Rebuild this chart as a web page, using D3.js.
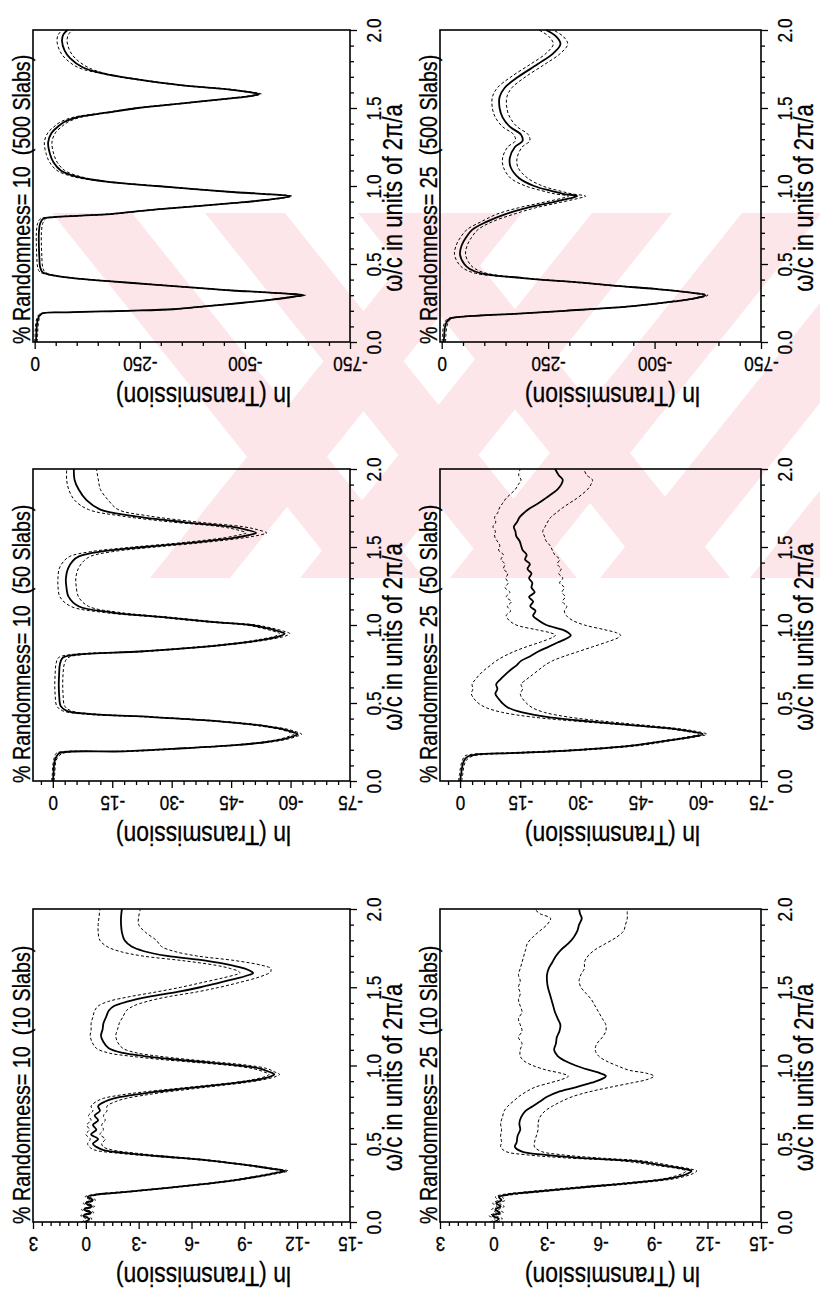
<!DOCTYPE html>
<html><head><meta charset="utf-8">
<script src="https://cdn.jsdelivr.net/npm/d3@7"></script>
<style>body{margin:0;background:#fff}svg{display:block}</style>
</head><body>
<svg id="chart" width="820" height="1296"></svg>
<script>
// ---------- tick values ----------
const omegaTicks = [0, 0.5, 1.0, 1.5, 2.0];
const lnTicks500 = [0, -250, -500, -750];
const lnTicks50 = [0, -15, -30, -45, -60, -75];
const lnTicks10 = [3, 0, -3, -6, -9, -12, -15];

// ---------- 10 % randomness, 500 slabs ----------
const omegaA = [0,0.05,0.10,0.15,0.18,0.19,0.20,0.21,0.23,0.25,0.27,0.29,0.30,0.31,0.32,0.33,0.35,0.37,0.39,0.41,0.43,0.45,0.48,0.55,0.62,0.70,0.76,0.79,0.80,0.81,0.82,0.85,0.89,0.92,0.935,0.95,0.96,0.98,1.00,1.03,1.06,1.10,1.15,1.20,1.28,1.34,1.38,1.41,1.44,1.47,1.50,1.53,1.56,1.58,1.59,1.60,1.62,1.645,1.69,1.72,1.76,1.82,1.87,1.93,1.97,2.00];
const meanA = [-3,-4,-5,-8,-15,-80,-220,-330,-410,-490,-560,-615,-640,-600,-540,-470,-370,-275,-175,-90,-38,-18,-13,-11,-10,-10,-13,-20,-45,-110,-180,-290,-470,-580,-608,-540,-477,-380,-290,-165,-100,-62,-45,-37,-32,-40,-55,-70,-100,-170,-245,-352,-460,-520,-534,-515,-460,-352,-228,-165,-115,-84,-71,-65,-68,-78];
const upperA = [0,-1,-2,-5,-12,-76,-216,-326,-406,-486,-556,-611,-636,-596,-536,-466,-366,-271,-171,-86,-34,-12,-7,-5,-4,-4,-7,-14,-41,-106,-176,-286,-466,-576,-604,-536,-473,-376,-286,-161,-91,-53,-36,-28,-23,-31,-46,-61,-91,-165,-240,-347,-455,-515,-529,-510,-455,-347,-223,-160,-103,-72,-59,-53,-56,-66];
const lowerA = [-6,-7,-8,-11,-18,-84,-224,-334,-414,-494,-564,-619,-644,-604,-544,-474,-374,-279,-179,-94,-42,-24,-19,-17,-16,-16,-19,-26,-49,-114,-184,-294,-474,-584,-612,-544,-481,-384,-294,-169,-109,-71,-54,-46,-41,-49,-64,-79,-109,-175,-250,-357,-465,-525,-539,-520,-465,-357,-233,-170,-127,-96,-83,-77,-80,-90];

// ---------- 25 % randomness, 500 slabs ----------
const omegaB = [0,0.05,0.10,0.13,0.15,0.16,0.17,0.18,0.20,0.23,0.26,0.28,0.30,0.32,0.34,0.36,0.38,0.41,0.44,0.47,0.50,0.56,0.62,0.67,0.72,0.77,0.82,0.86,0.89,0.92,0.935,0.95,0.97,1.00,1.05,1.12,1.18,1.25,1.29,1.33,1.38,1.44,1.50,1.57,1.63,1.70,1.78,1.85,1.91,1.96,2.00];
const meanB = [-5,-6,-8,-12,-19,-37,-90,-170,-290,-450,-545,-595,-620,-575,-502,-410,-330,-190,-93,-65,-53,-43,-47,-57,-72,-105,-150,-200,-250,-300,-318,-285,-255,-217,-182,-162,-160,-172,-190,-186,-160,-143,-136,-136,-148,-180,-225,-262,-279,-268,-245];
const upperB = [-1,-2,-4,-8,-15,-32,-85,-165,-285,-445,-540,-590,-615,-570,-497,-405,-325,-185,-80,-52,-40,-30,-34,-44,-59,-92,-130,-180,-230,-280,-298,-265,-235,-197,-162,-145,-143,-155,-173,-169,-143,-126,-119,-119,-131,-163,-208,-245,-262,-251,-228];
const lowerB = [-9,-10,-12,-16,-23,-42,-95,-175,-295,-455,-550,-600,-625,-580,-507,-415,-335,-195,-106,-78,-66,-56,-60,-70,-85,-118,-170,-220,-270,-320,-338,-305,-275,-237,-202,-179,-177,-189,-207,-203,-177,-160,-153,-153,-165,-197,-242,-279,-296,-285,-262];

// ---------- 10 % randomness, 50 slabs ----------
const omegaC = [0,0.05,0.10,0.13,0.16,0.18,0.19,0.21,0.23,0.25,0.27,0.29,0.30,0.31,0.33,0.35,0.37,0.39,0.41,0.43,0.45,0.48,0.55,0.62,0.69,0.75,0.79,0.81,0.83,0.85,0.87,0.89,0.91,0.93,0.945,0.96,0.98,1.00,1.02,1.05,1.08,1.12,1.18,1.25,1.30,1.36,1.41,1.44,1.47,1.50,1.53,1.56,1.58,1.59,1.61,1.63,1.66,1.70,1.74,1.80,1.87,1.93,2.00];
const meanC = [0,-0.2,-0.3,-0.5,-1.0,-1.8,-18,-33,-46,-54,-58.5,-61,-61.8,-61,-58.5,-54,-47.5,-38,-25,-9,-3.5,-2,-1.6,-1.5,-1.6,-1.8,-2.5,-6,-22,-33,-42,-49,-54,-57.5,-58.5,-57,-54,-50,-40,-28,-15,-6.5,-4,-3.4,-3.3,-3.8,-5,-6.6,-12,-23,-36,-46,-50,-51.3,-49,-45,-33,-20,-12,-8.5,-6.5,-5.5,-5.3];
const upperC = [0.3,0.1,0,-0.2,-0.5,-1.0,-16,-32,-45,-53,-57.5,-60,-60.8,-60,-57.5,-53,-46.5,-37,-24,-7.5,-2.5,-1,-0.6,-0.5,-0.6,-0.8,-1.4,-4.5,-20.5,-31.8,-40.8,-47.8,-52.8,-56.3,-57.2,-55.7,-52.7,-48.7,-38.5,-26.5,-13,-4.5,-1.8,-1.3,-1.3,-1.6,-2.8,-4.3,-9.5,-20.5,-33.5,-43.5,-47.5,-48.8,-46.5,-42.5,-30,-17,-9,-5.5,-4,-3.5,-3.5];
const lowerC = [-0.3,-0.5,-0.6,-0.8,-1.5,-2.8,-20,-34,-47,-55,-59.5,-62,-62.8,-62,-59.5,-55,-48.5,-39,-26,-10.5,-4.6,-3,-2.6,-2.5,-2.6,-2.9,-3.8,-7.5,-23.5,-34.2,-43.2,-50.2,-55.2,-58.8,-59.8,-58.3,-55.3,-51.3,-41.5,-29.5,-17,-9,-6.5,-5.9,-5.8,-6.4,-7.8,-9.5,-15,-26,-38.5,-48.5,-52.8,-54,-51.8,-48,-36.5,-24,-16.5,-14,-12,-11.5,-11];

// ---------- 25 % randomness, 50 slabs ----------
const omegaD = [0,0.05,0.10,0.14,0.16,0.17,0.18,0.20,0.23,0.26,0.28,0.30,0.32,0.34,0.36,0.38,0.41,0.44,0.47,0.50,0.53,0.56,0.59,0.62,0.65,0.68,0.71,0.74,0.77,0.80,0.83,0.86,0.89,0.92,0.935,0.95,0.97,1.00,1.03,1.06,1.09,1.12,1.15,1.18,1.21,1.24,1.27,1.30,1.33,1.36,1.39,1.42,1.45,1.48,1.51,1.54,1.57,1.60,1.63,1.66,1.69,1.72,1.75,1.78,1.81,1.84,1.87,1.90,1.93,1.96,2.00];
const meanD = [0,-0.3,-0.6,-1.2,-2.2,-4,-14,-30,-44,-52,-57,-60.5,-57,-51,-42,-33,-22,-15.5,-12,-10.5,-9.5,-8.8,-9.3,-9.0,-10,-11.2,-12.5,-14,-15.2,-17.5,-19.5,-22,-24.5,-27,-27.6,-27,-25.5,-21.5,-19.5,-18.2,-18.8,-17.5,-18.2,-17.2,-18.6,-17.8,-18.0,-17.2,-17.8,-16.8,-17.4,-16.2,-16.6,-15.6,-15.2,-14.8,-14.0,-13.8,-13.4,-14.2,-14.8,-16.0,-17.5,-19.5,-21.2,-22.8,-24.3,-25.2,-25.6,-24.6,-23.7];
const upperD = [0.4,0.1,-0.2,-0.7,-1.2,-2.5,-11,-28,-43,-51,-56,-59.5,-56,-50,-40.5,-30.5,-18,-10.5,-6.5,-4.5,-3.4,-2.8,-3.2,-3.0,-3.8,-4.8,-6,-7.5,-9,-11,-13.5,-16.5,-20,-23,-23.8,-22.5,-19,-14,-12.2,-11.5,-12.6,-11.8,-12.8,-11.5,-12.4,-11.2,-12.0,-11.4,-11.9,-10.8,-11.2,-10.2,-10.8,-9.6,-9.9,-9.2,-8.6,-8.8,-8.2,-8.9,-8.6,-9.4,-9.8,-10.6,-11.4,-12.6,-13.8,-14.5,-15.2,-14.6,-15.0];
const lowerD = [-0.4,-0.7,-1.0,-1.8,-3.2,-6,-17,-32,-45.5,-53,-58,-61.5,-58.5,-53,-45,-37,-27,-21,-18,-16.5,-15.5,-15,-15.6,-15.2,-16.5,-18,-19.5,-21,-23,-26,-29.5,-33,-36.5,-39.5,-40,-39,-36,-31,-28,-26.5,-26,-26.6,-25.5,-26.2,-25.4,-26,-24.8,-25.6,-24.6,-25.2,-24.2,-24.8,-23.6,-23.0,-22.4,-21.4,-21.0,-20.6,-21.2,-21.8,-22.6,-24.0,-25.5,-27.2,-29.0,-30.5,-31.8,-32.6,-33.0,-31.6,-30.8];

// ---------- 10 % randomness, 10 slabs ----------
const omegaE = [0,0.02,0.04,0.06,0.08,0.10,0.12,0.14,0.16,0.175,0.185,0.20,0.22,0.24,0.26,0.28,0.30,0.315,0.326,0.34,0.36,0.38,0.40,0.42,0.44,0.46,0.48,0.50,0.53,0.56,0.59,0.62,0.65,0.68,0.71,0.74,0.77,0.79,0.81,0.83,0.85,0.87,0.89,0.91,0.93,0.943,0.96,0.98,1.00,1.02,1.04,1.06,1.08,1.11,1.15,1.19,1.23,1.27,1.31,1.35,1.38,1.41,1.44,1.47,1.50,1.53,1.56,1.58,1.59,1.60,1.62,1.64,1.67,1.70,1.73,1.76,1.80,1.85,1.90,1.95,2.00];
const meanE = [0.1,-0.2,0.15,-0.3,0.1,-0.35,0,-0.4,-0.1,-0.6,-1.5,-3.0,-4.8,-6.5,-8.0,-9.2,-10.2,-10.9,-11.3,-10.6,-9.4,-8.0,-6.4,-4.2,-2.3,-1.0,-0.6,-0.4,-0.7,-0.3,-0.6,-0.4,-0.7,-0.5,-0.8,-0.7,-1.1,-1.6,-2.6,-3.8,-5.4,-7.0,-8.6,-9.8,-10.5,-10.7,-10.4,-9.9,-8.7,-6.9,-4.9,-3.3,-2.1,-1.3,-1.0,-0.86,-0.95,-1.0,-1.15,-1.3,-1.6,-2.4,-3.6,-5.2,-6.5,-7.6,-8.7,-9.3,-9.5,-9.4,-9.0,-8.3,-6.8,-4.6,-3.3,-2.6,-2.2,-2.05,-2.0,-2.0,-2.05];
const upperE = [0.25,0,0.3,-0.15,0.25,-0.2,0.15,-0.25,0.05,-0.4,-1.2,-2.8,-4.6,-6.3,-7.8,-9.0,-10.0,-10.7,-11.1,-10.4,-9.2,-7.8,-6.1,-3.8,-1.8,-0.5,-0.2,-0.1,-0.25,0,-0.2,-0.05,-0.3,-0.15,-0.4,-0.3,-0.6,-1.0,-1.9,-3.2,-4.9,-6.6,-8.3,-9.5,-10.2,-10.4,-10.1,-9.5,-8.2,-6.2,-4.1,-2.5,-1.3,-0.6,-0.35,-0.25,-0.3,-0.3,-0.4,-0.5,-0.7,-1.3,-2.5,-4.0,-5.4,-6.6,-7.8,-8.5,-8.75,-8.7,-8.2,-7.4,-5.5,-3.2,-1.9,-1.2,-0.8,-0.7,-0.7,-0.75,-0.8];
const lowerE = [-0.05,-0.35,0,-0.45,-0.05,-0.5,-0.15,-0.55,-0.25,-0.8,-1.8,-3.2,-5.0,-6.7,-8.2,-9.4,-10.4,-11.1,-11.5,-10.8,-9.6,-8.2,-6.7,-4.6,-2.8,-1.5,-1.0,-0.9,-1.1,-0.8,-1.0,-0.9,-1.1,-1.0,-1.2,-1.2,-1.7,-2.3,-3.3,-4.5,-6.0,-7.5,-9.0,-10.1,-10.8,-11.0,-10.7,-10.3,-9.3,-7.6,-5.7,-4.1,-2.9,-2.1,-1.8,-1.7,-1.8,-1.9,-2.1,-2.3,-2.7,-3.5,-4.7,-6.3,-7.6,-8.7,-9.7,-10.2,-10.4,-10.5,-10.5,-10.0,-8.5,-6.3,-5.0,-4.3,-4.0,-3.4,-3.0,-3.0,-3.1];

// ---------- 25 % randomness, 10 slabs ----------
const omegaF = [0,0.02,0.04,0.06,0.08,0.10,0.12,0.14,0.16,0.175,0.19,0.22,0.25,0.28,0.31,0.326,0.34,0.36,0.39,0.41,0.43,0.45,0.48,0.51,0.55,0.59,0.63,0.67,0.71,0.74,0.77,0.80,0.83,0.86,0.89,0.91,0.932,0.95,0.97,1.00,1.03,1.06,1.10,1.14,1.18,1.22,1.26,1.30,1.34,1.38,1.42,1.46,1.50,1.54,1.58,1.62,1.66,1.70,1.74,1.78,1.82,1.86,1.90,1.94,1.97,2.00];
const meanF = [0,-0.3,0.05,-0.35,-0.1,-0.4,-0.15,-0.45,-0.3,-0.8,-2.0,-4.8,-7.8,-10.0,-10.9,-11.1,-10.7,-9.6,-7.8,-4.8,-2.8,-1.6,-1.2,-1.3,-1.35,-1.5,-1.45,-1.55,-1.8,-2.2,-2.6,-3.0,-3.6,-4.6,-5.5,-6.0,-6.3,-6.0,-5.4,-4.6,-4.0,-3.6,-3.4,-3.5,-3.55,-3.7,-3.75,-3.6,-3.45,-3.35,-3.25,-3.15,-3.05,-3.0,-3.0,-3.1,-3.3,-3.5,-3.8,-4.2,-4.5,-4.7,-4.8,-4.95,-4.85,-4.8];
const upperF = [0.2,-0.1,0.25,-0.15,0.1,-0.2,0.05,-0.25,-0.1,-0.5,-1.6,-4.4,-7.4,-9.7,-10.6,-10.8,-10.4,-9.2,-7.2,-4.0,-1.8,-0.7,-0.4,-0.45,-0.4,-0.45,-0.4,-0.5,-0.6,-0.8,-1.1,-1.4,-1.8,-2.3,-3.2,-3.8,-4.2,-3.8,-3.0,-2.2,-1.7,-1.5,-1.5,-1.6,-1.4,-1.6,-1.5,-1.4,-1.6,-1.5,-1.4,-1.5,-1.4,-1.5,-1.4,-1.5,-1.6,-1.7,-1.8,-1.9,-2.2,-2.6,-3.0,-3.2,-2.6,-2.3];
const lowerF = [-0.2,-0.5,-0.15,-0.55,-0.3,-0.6,-0.35,-0.65,-0.5,-1.1,-2.4,-5.2,-8.2,-10.3,-11.2,-11.4,-11.0,-10.0,-8.4,-5.8,-3.8,-2.7,-2.3,-2.3,-2.4,-2.5,-2.5,-2.6,-2.9,-3.3,-3.8,-4.4,-5.3,-6.5,-7.8,-8.6,-9.0,-8.6,-7.6,-6.9,-6.3,-5.9,-5.7,-5.8,-6.1,-6.3,-6.3,-6.1,-5.9,-5.7,-5.5,-5.2,-4.9,-4.8,-4.9,-5.1,-5.1,-5.3,-5.7,-6.3,-6.9,-7.3,-7.4,-7.5,-7.5,-7.5];

// ---------- panel table ----------
const panels = [
  {title:"% Randomness= 10\u00a0\u00a0(500 Slabs)", col:0, row:0, dom:[4,-750], ticks:lnTicks500, minor:50,  w:omegaA, m:meanA, hi:upperA, lo:lowerA},
  {title:"% Randomness= 25\u00a0\u00a0(500 Slabs)", col:1, row:0, dom:[4,-750], ticks:lnTicks500, minor:50,  w:omegaB, m:meanB, hi:upperB, lo:lowerB},
  {title:"% Randomness= 10\u00a0\u00a0(50 Slabs)",  col:0, row:1, dom:[5,-75],  ticks:lnTicks50,  minor:3,   w:omegaC, m:meanC, hi:upperC, lo:lowerC},
  {title:"% Randomness= 25\u00a0\u00a0(50 Slabs)",  col:1, row:1, dom:[5,-75],  ticks:lnTicks50,  minor:3,   w:omegaD, m:meanD, hi:upperD, lo:lowerD},
  {title:"% Randomness= 10\u00a0\u00a0(10 Slabs)",  col:0, row:2, dom:[3,-15],  ticks:lnTicks10,  minor:0.5, w:omegaE, m:meanE, hi:upperE, lo:lowerE},
  {title:"% Randomness= 25\u00a0\u00a0(10 Slabs)",  col:1, row:2, dom:[3,-15],  ticks:lnTicks10,  minor:0.5, w:omegaF, m:meanF, hi:upperF, lo:lowerF}
];

// ---------- layout ----------
const colX = [[33, 350], [440, 761]];
const rowY = [[30, 342], [469, 781], [909, 1222]];
const FONT = "'Liberation Sans', Arial, Helvetica, sans-serif";
const SQ = "scale(0.82,1)";

const svg = d3.select("#chart");
svg.append("rect").attr("width", 820).attr("height", 1296).attr("fill", "#fff");

// faint scanned-page watermark (diagonal stripes)
const wmBox = {x: 52, y: 213, w: 768, h: 365};
const wmDown = [52, 205, 358];
const wmUp = [150, 300, 450, 600, 750, 900];
const wmBand = 80;
svg.append("clipPath").attr("id", "wmclip").append("rect")
  .attr("x", wmBox.x).attr("y", wmBox.y).attr("width", wmBox.w).attr("height", wmBox.h);
const wm = svg.append("g").attr("clip-path", "url(#wmclip)").attr("fill", "#fce6ea");
const H = wmBox.h, yT = wmBox.y, yB = wmBox.y + wmBox.h;
wmDown.forEach(x => wm.append("path").attr("d", `M${x},${yT}L${x + wmBand},${yT}L${x + wmBand + H * 0.8},${yB}L${x + H * 0.8},${yB}Z`));
wmUp.forEach(x => wm.append("path").attr("d", `M${x},${yB}L${x + wmBand},${yB}L${x + wmBand + H * 0.8},${yT}L${x + H * 0.8},${yT}Z`));

function styleAxis(g) {
  g.attr("font-size", null).attr("font-family", null);
  g.select(".domain").remove();
  g.selectAll(".tick line").attr("stroke", "#000").attr("stroke-width", 1.3);
}
function txt(sel, size) {
  sel.style("font-family", FONT).style("font-size", size + "px")
    .attr("fill", "#000").attr("stroke", "#000").attr("stroke-width", 0.3);
}

panels.forEach(p => {
  const [x0, x1] = colX[p.col];
  const [y0, y1] = rowY[p.row];
  const xS = d3.scaleLinear().domain(p.dom).range([x0, x1]);
  const yS = d3.scaleLinear().domain([0, 2]).range([y1, y0]);
  const g = svg.append("g");

  const line = d3.line()
    .x(d => xS(d[1])).y(d => yS(d[0]))
    .curve(d3.curveCatmullRom.alpha(0.5));

  [[p.hi, true], [p.lo, true], [p.m, false]].forEach(([vals, dashed]) => {
    g.append("path")
      .datum(d3.zip(p.w, vals))
      .attr("d", line)
      .attr("fill", "none")
      .attr("stroke", "#000")
      .attr("stroke-width", dashed ? 1.0 : 1.8)
      .attr("stroke-dasharray", dashed ? "3,2.2" : null)
      .attr("stroke-linejoin", "round");
  });

  // frame
  g.append("rect").attr("x", x0).attr("y", y0)
    .attr("width", x1 - x0).attr("height", y1 - y0)
    .attr("fill", "none").attr("stroke", "#000").attr("stroke-width", 1.6);

  // omega axis (right side)
  const wMinor = d3.range(0, 21).map(i => i / 10).filter(v => Math.abs(v * 2 - Math.round(v * 2)) > 1e-9);
  const gwm = g.append("g").attr("transform", `translate(${x1},0)`)
    .call(d3.axisRight(yS).tickValues(wMinor).tickSize(4).tickFormat(""));
  styleAxis(gwm);
  const gw = g.append("g").attr("transform", `translate(${x1},0)`)
    .call(d3.axisRight(yS).tickValues(omegaTicks).tickSize(7).tickFormat(d3.format(".1f")));
  styleAxis(gw);
  gw.selectAll("text")
    .attr("x", 0).attr("dy", "0.36em")
    .attr("text-anchor", "middle")
    .attr("transform", `translate(23,0) rotate(-90) ${SQ}`)
    .call(txt, 21);

  // ln(T) axis (bottom)
  const lmin = Math.min(...p.dom), lmax = Math.max(...p.dom);
  const lnMinor = [];
  for (let v = Math.ceil(lmin / p.minor) * p.minor; v <= lmax + 1e-9; v += p.minor) {
    const r = Math.round(v * 1000) / 1000;
    if (!p.ticks.some(t => Math.abs(t - r) < 1e-6)) lnMinor.push(r);
  }
  const glm = g.append("g").attr("transform", `translate(0,${y1})`)
    .call(d3.axisBottom(xS).tickValues(lnMinor).tickSize(4).tickFormat(""));
  styleAxis(glm);
  const gl = g.append("g").attr("transform", `translate(0,${y1})`)
    .call(d3.axisBottom(xS).tickValues(p.ticks).tickSize(7).tickFormat(d => String(d)));
  styleAxis(gl);
  gl.selectAll("text")
    .attr("y", 0).attr("dy", "0.36em")
    .attr("text-anchor", "middle")
    .attr("transform", `translate(0,23) rotate(180) ${SQ}`)
    .call(txt, 21);

  // panel title (left, reading upward)
  g.append("text")
    .attr("transform", `translate(${x0 - 3},${y1 + 2}) rotate(-90) ${SQ}`)
    .attr("text-anchor", "start")
    .call(txt, 24)
    .text(p.title);

  // omega axis title
  g.append("text")
    .attr("transform", `translate(${x1 + 43},${(y0 + y1) / 2 + 12}) rotate(-90) ${SQ}`)
    .attr("text-anchor", "middle").attr("dy", "0.33em")
    .call(txt, 27)
    .text("ω/c in units of 2π/a");

  // ln(T) axis title (upside down)
  g.append("text")
    .attr("transform", `translate(${(x0 + x1) / 2 + 12},${y1 + 55}) rotate(180) ${SQ}`)
    .attr("text-anchor", "middle").attr("dy", "0.36em")
    .call(txt, 28)
    .text("ln (Transmission)");
});
</script>
</body></html>
